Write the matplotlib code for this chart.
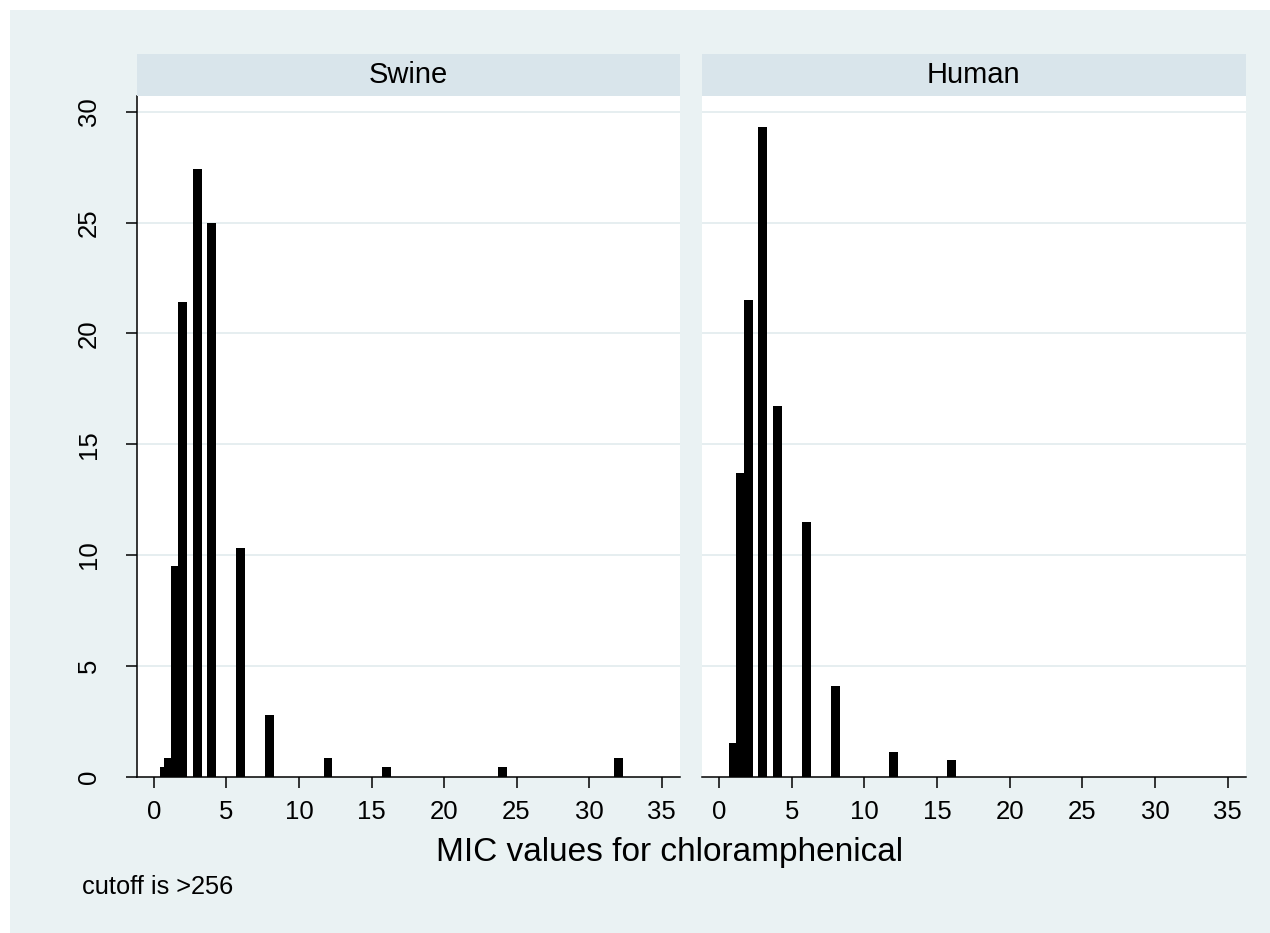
import matplotlib
matplotlib.use("Agg")
import matplotlib.pyplot as plt
from matplotlib.patches import Rectangle

plt.rcParams['font.family'] = ['Liberation Sans', 'DejaVu Sans']

# MIC values (x) and percent of isolates (y)
swine_mic = [0.75, 1, 1.5, 2, 3, 4, 6, 8, 12, 16, 24, 32]
swine_pct = [0.42, 0.83, 9.5, 21.4, 27.4, 25.0, 10.3, 2.8, 0.83, 0.42, 0.42, 0.83]

human_mic = [1, 1.5, 2, 3, 4, 6, 8, 12, 16]
human_pct = [1.5, 13.7, 21.5, 29.3, 16.7, 11.5, 4.1, 1.1, 0.75]

panels = ['Swine', 'Human']
xticks = [0, 5, 10, 15, 20, 25, 30, 35]
yticks = [0, 5, 10, 15, 20, 25, 30]

bg = '#EAF2F3'
strip_col = '#D9E5EB'
grid_col = '#E4EDEF'

W, H = 1270, 933
fig = plt.figure(figsize=(W / 100, H / 100), dpi=100, facecolor='white')
fig.patches.append(Rectangle((10 / W, 0), 1, 1 - 10 / H, transform=fig.transFigure,
                             facecolor=bg, edgecolor='none', zorder=-5))

# panel boxes in pixels: left, right
boxes = [(136.7, 680), (701.7, 1246)]
top, bottom, strip_top = 95.7, 776.7, 54

for i, (name, mic, pct) in enumerate(zip(panels, [swine_mic, human_mic], [swine_pct, human_pct])):
    x0, x1 = boxes[i]
    ax = fig.add_axes([x0 / W, 1 - bottom / H, (x1 - x0) / W, (bottom - top) / H])
    ax.set_facecolor('white')
    ax.bar(mic, pct, width=0.62, color='black', zorder=3)
    ax.set_xlim(-1.19, 36.27)
    ax.set_ylim(0, 30.72)
    ax.set_xticks(xticks)
    ax.set_yticks(yticks)
    for y in yticks[1:]:
        ax.axhline(y, color=grid_col, lw=1.3, zorder=1)
    for s in ['top', 'right']:
        ax.spines[s].set_visible(False)
    ax.spines['bottom'].set_linewidth(1.1)
    ax.spines['left'].set_linewidth(1.1)
    ax.tick_params(axis='x', length=7.7, width=1.1, pad=9, labelsize=18.5)
    if i == 0:
        ax.tick_params(axis='y', length=7.7, width=1.1, pad=18, labelsize=18.5, labelrotation=90)
        for lab in ax.get_yticklabels():
            lab.set_va('center')
    else:
        ax.spines['left'].set_visible(False)
        ax.tick_params(axis='y', left=False, labelleft=False)

    sax = fig.add_axes([x0 / W, 1 - top / H, (x1 - x0) / W, (top - strip_top) / H])
    sax.set_facecolor(strip_col)
    sax.set_xticks([])
    sax.set_yticks([])
    for s in sax.spines.values():
        s.set_visible(False)
    sax.text(0.5, 0.5, name, ha='center', va='center', fontsize=21, transform=sax.transAxes)

fig.text(670 / W, 1 - 852 / H, 'MIC values for chloramphenical', ha='center', va='center', fontsize=24)
fig.text(82 / W, 1 - 887 / H, 'cutoff is >256', ha='left', va='center', fontsize=18.3)

fig.savefig('out.png', dpi=100, facecolor='white')
